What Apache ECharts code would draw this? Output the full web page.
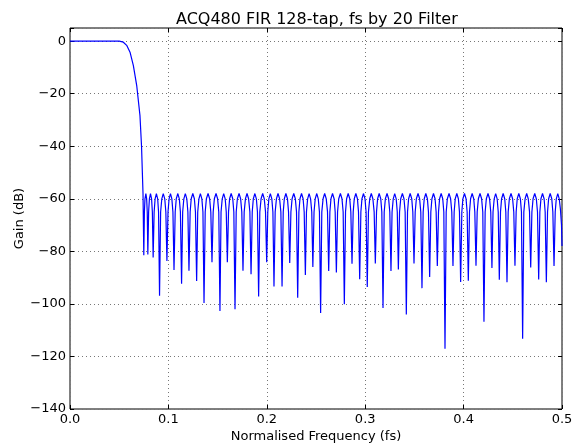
<!DOCTYPE html>
<html>
<head>
<meta charset="utf-8">
<script src="https://cdn.jsdelivr.net/npm/echarts@6/dist/echarts.min.js"></script>
<style>
html,body{margin:0;padding:0;background:#fff;}
#chart{width:573px;height:444px;}
</style>
</head>
<body>
<div id="chart"></div>
<script>
// ---- Data ----
const titleText = 'ACQ480 FIR 128-tap, fs by 20 Filter';
const xAxisTitle = 'Normalised Frequency (fs)';
const yAxisTitle = 'Gain (dB)';
const xTickLabels = ['0.0', '0.1', '0.2', '0.3', '0.4', '0.5'];
const yTickLabels = ['0', '−20', '−40', '−60', '−80', '−100', '−120', '−140'];

// frequency points (fs)
const freq = [
  0.0, 0.050, 0.0542, 0.0576, 0.0610, 0.0644, 0.0678, 0.0711, 0.0727, 0.0742, 0.0750,
  0.0756, 0.0762, 0.0771, 0.0779, 0.0785, 0.0791,
  0.0799, 0.0807, 0.0818, 0.0829, 0.0837, 0.0845,
  0.0855, 0.0865, 0.0878, 0.0891, 0.0900, 0.0910,
  0.0921, 0.0933, 0.0948, 0.0963, 0.0974, 0.0985,
  0.0996, 0.1007, 0.1021, 0.1035, 0.1046, 0.1057,
  0.1069, 0.1080, 0.1096, 0.1111, 0.1122, 0.1134,
  0.1145, 0.1157, 0.1172, 0.1187, 0.1198, 0.1209,
  0.1221, 0.1232, 0.1248, 0.1264, 0.1275, 0.1287,
  0.1298, 0.1310, 0.1325, 0.1340, 0.1351, 0.1362,
  0.1374, 0.1386, 0.1403, 0.1419, 0.1431, 0.1443,
  0.1455, 0.1467, 0.1484, 0.1500, 0.1512, 0.1524,
  0.1535, 0.1547, 0.1562, 0.1577, 0.1588, 0.1599,
  0.1611, 0.1622, 0.1638, 0.1654, 0.1665, 0.1677,
  0.1689, 0.1701, 0.1718, 0.1734, 0.1746, 0.1758,
  0.1770, 0.1783, 0.1799, 0.1815, 0.1828, 0.1840,
  0.1852, 0.1863, 0.1879, 0.1894, 0.1905, 0.1917,
  0.1929, 0.1942, 0.1958, 0.1974, 0.1987, 0.1999,
  0.2010, 0.2021, 0.2036, 0.2051, 0.2062, 0.2073,
  0.2085, 0.2098, 0.2114, 0.2130, 0.2143, 0.2155,
  0.2167, 0.2178, 0.2194, 0.2210, 0.2221, 0.2233,
  0.2245, 0.2257, 0.2274, 0.2290, 0.2302, 0.2314,
  0.2326, 0.2337, 0.2353, 0.2369, 0.2380, 0.2392,
  0.2403, 0.2415, 0.2430, 0.2445, 0.2457, 0.2468,
  0.2480, 0.2492, 0.2508, 0.2523, 0.2535, 0.2547,
  0.2559, 0.2572, 0.2588, 0.2604, 0.2617, 0.2629,
  0.2641, 0.2652, 0.2668, 0.2684, 0.2695, 0.2707,
  0.2719, 0.2731, 0.2748, 0.2764, 0.2776, 0.2788,
  0.2800, 0.2811, 0.2827, 0.2843, 0.2854, 0.2866,
  0.2878, 0.2889, 0.2905, 0.2921, 0.2932, 0.2944,
  0.2956, 0.2967, 0.2983, 0.2998, 0.3009, 0.3021,
  0.3033, 0.3046, 0.3062, 0.3078, 0.3091, 0.3103,
  0.3115, 0.3126, 0.3142, 0.3158, 0.3169, 0.3181,
  0.3193, 0.3205, 0.3222, 0.3238, 0.3250, 0.3262,
  0.3273, 0.3285, 0.3300, 0.3315, 0.3326, 0.3337,
  0.3349, 0.3361, 0.3378, 0.3394, 0.3406, 0.3418,
  0.3430, 0.3441, 0.3457, 0.3473, 0.3484, 0.3496,
  0.3508, 0.3520, 0.3537, 0.3553, 0.3565, 0.3577,
  0.3589, 0.3600, 0.3616, 0.3632, 0.3643, 0.3655,
  0.3667, 0.3678, 0.3694, 0.3710, 0.3721, 0.3733,
  0.3745, 0.3756, 0.3772, 0.3788, 0.3799, 0.3811,
  0.3823, 0.3835, 0.3852, 0.3868, 0.3880, 0.3892,
  0.3904, 0.3915, 0.3931, 0.3947, 0.3958, 0.3970,
  0.3982, 0.3993, 0.4009, 0.4025, 0.4036, 0.4048,
  0.4060, 0.4071, 0.4087, 0.4103, 0.4114, 0.4126,
  0.4138, 0.4150, 0.4167, 0.4183, 0.4195, 0.4207,
  0.4219, 0.4231, 0.4248, 0.4264, 0.4276, 0.4288,
  0.4299, 0.4311, 0.4326, 0.4341, 0.4352, 0.4363,
  0.4375, 0.4386, 0.4402, 0.4418, 0.4429, 0.4441,
  0.4453, 0.4465, 0.4482, 0.4498, 0.4510, 0.4522,
  0.4534, 0.4545, 0.4561, 0.4577, 0.4588, 0.4600,
  0.4612, 0.4625, 0.4641, 0.4657, 0.4670, 0.4682,
  0.4694, 0.4706, 0.4723, 0.4739, 0.4751, 0.4763,
  0.4775, 0.4786, 0.4802, 0.4818, 0.4829, 0.4841,
  0.4853, 0.4864, 0.4880, 0.4896, 0.4907, 0.4919,
  0.4931, 0.4942, 0.4957, 0.4972, 0.4984, 0.4995, 0.5000
];

// gain (dB) at each frequency point
const gainDb = [
  0, 0, -0.4, -1.6, -4.2, -9.3, -16.9, -28.3, -40, -58, -81.5,
  -65, -60, -58, -60, -65, -81.2,
  -65, -60, -58, -60, -65, -82.3,
  -65, -60, -58, -60, -65, -96.9,
  -65, -60, -58, -60, -65, -83.7,
  -65, -60, -58, -60, -65, -87.1,
  -65, -60, -58, -60, -65, -92.3,
  -65, -60, -58, -60, -65, -87.4,
  -65, -60, -58, -60, -65, -91.3,
  -65, -60, -58, -60, -65, -99.7,
  -65, -60, -58, -60, -65, -84.1,
  -65, -60, -58, -60, -65, -102.7,
  -65, -60, -58, -60, -65, -84.1,
  -65, -60, -58, -60, -65, -102.0,
  -65, -60, -58, -60, -65, -87.4,
  -65, -60, -58, -60, -65, -88.7,
  -65, -60, -58, -60, -65, -97.2,
  -65, -60, -58, -60, -65, -84.1,
  -65, -60, -58, -60, -65, -93.4,
  -65, -60, -58, -60, -65, -93.4,
  -65, -60, -58, -60, -65, -84.4,
  -65, -60, -58, -60, -65, -97.7,
  -65, -60, -58, -60, -65, -89.0,
  -65, -60, -58, -60, -65, -86.0,
  -65, -60, -58, -60, -65, -103.5,
  -65, -60, -58, -60, -65, -87.5,
  -65, -60, -58, -60, -65, -88.0,
  -65, -60, -58, -60, -65, -100.1,
  -65, -60, -58, -60, -65, -84.7,
  -65, -60, -58, -60, -65, -90.6,
  -65, -60, -58, -60, -65, -93.6,
  -65, -60, -58, -60, -65, -84.6,
  -65, -60, -58, -60, -65, -101.6,
  -65, -60, -58, -60, -65, -87.5,
  -65, -60, -58, -60, -65, -86.9,
  -65, -60, -58, -60, -65, -104.0,
  -65, -60, -58, -60, -65, -84.6,
  -65, -60, -58, -60, -65, -94.0,
  -65, -60, -58, -60, -65, -89.8,
  -65, -60, -58, -60, -65, -85.6,
  -65, -60, -58, -60, -65, -117.1,
  -65, -60, -58, -60, -65, -85.6,
  -65, -60, -58, -60, -65, -91.7,
  -65, -60, -58, -60, -65, -91.2,
  -65, -60, -58, -60, -65, -85.5,
  -65, -60, -58, -60, -65, -106.8,
  -65, -60, -58, -60, -65, -86.3,
  -65, -60, -58, -60, -65, -90.8,
  -65, -60, -58, -60, -65, -91.8,
  -65, -60, -58, -60, -65, -85.5,
  -65, -60, -58, -60, -65, -113.3,
  -65, -60, -58, -60, -65, -86.1,
  -65, -60, -58, -60, -65, -90.7,
  -65, -60, -58, -60, -65, -91.8,
  -65, -60, -58, -60, -65, -85.6,
  -65, -60, -58, -60, -64, -70, -78
];

const seriesData = freq.map((f, i) => [f, gainDb[i]]);

const FONT = 'DejaVu Sans';
const chart = echarts.init(document.getElementById('chart'), null, { renderer: 'canvas' });

const xLabelFmt = v => {
  const idx = Math.round(v * 10);
  return Math.abs(v * 10 - idx) < 1e-6 && idx >= 0 && idx < xTickLabels.length ? xTickLabels[idx] : '';
};
const yLabelFmt = v => {
  if (v % 20 !== 0) return '';
  const idx = Math.round(-v / 20);
  return idx >= 0 && idx < yTickLabels.length ? yTickLabels[idx] : '';
};

const gridLine = { show: true, lineStyle: { color: '#777', width: 1, type: [1, 3] } };
const tickStyle = { show: true, inside: true, length: 4, lineStyle: { color: '#000', width: 1 } };

chart.setOption({
  animation: false,
  backgroundColor: '#ffffff',
  title: {
    text: titleText,
    left: 171,
    top: 7,
    textStyle: { fontFamily: FONT, fontSize: 16, fontWeight: 'normal', color: '#000' }
  },
  grid: {
    left: 70, right: 11, top: 28, bottom: 35,
    outerBoundsMode: 'none',
    containLabel: false,
    show: true, borderColor: '#000', borderWidth: 1, backgroundColor: 'transparent'
  },
  xAxis: [
    {
      type: 'value', min: 0, max: 0.5, interval: 0.1, position: 'bottom',
      name: xAxisTitle, nameLocation: 'middle', nameGap: 21, nameMoveOverlap: false,
      nameTextStyle: { fontFamily: FONT, fontSize: 13, color: '#000' },
      axisLine: { show: false, onZero: false },
      axisTick: tickStyle,
      axisLabel: { fontFamily: FONT, fontSize: 13, color: '#000', margin: 4, formatter: xLabelFmt, showMinLabel: true, showMaxLabel: true },
      splitLine: gridLine
    },
    {
      type: 'value', min: 0, max: 0.5, interval: 0.1, position: 'top',
      axisLine: { show: false, onZero: false },
      axisTick: tickStyle,
      axisLabel: { show: false },
      splitLine: { show: false }
    }
  ],
  yAxis: [
    {
      type: 'value', min: -140, max: 5, interval: 20, position: 'left',
      name: yAxisTitle, nameLocation: 'middle', nameGap: 44, nameMoveOverlap: false,
      nameTextStyle: { fontFamily: FONT, fontSize: 13, color: '#000' },
      axisLine: { show: false, onZero: false },
      axisTick: tickStyle,
      axisLabel: { fontFamily: FONT, fontSize: 13, color: '#000', margin: 4, formatter: yLabelFmt },
      splitLine: gridLine
    },
    {
      type: 'value', min: -140, max: 5, interval: 20, position: 'right',
      axisLine: { show: false, onZero: false },
      axisTick: tickStyle,
      axisLabel: { show: false },
      splitLine: { show: false }
    }
  ],
  series: [
    {
      type: 'line',
      xAxisIndex: 0, yAxisIndex: 0,
      data: seriesData,
      showSymbol: false,
      symbol: 'none',
      clip: true,
      lineStyle: { color: '#0000ff', width: 1.2 },
      z: 3
    }
  ]
});
</script>
</body>
</html>
